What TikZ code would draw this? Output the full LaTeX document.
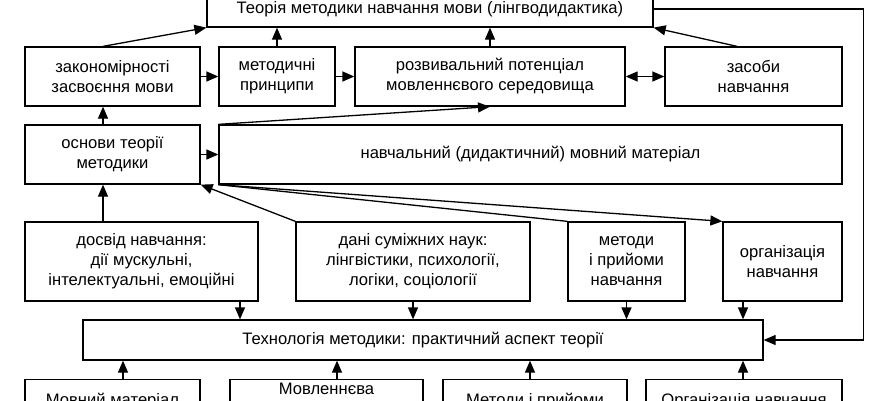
\documentclass[tikz,border=0pt]{standalone}
\usepackage{fontspec}
\setmainfont{Liberation Sans}
\usetikzlibrary{arrows.meta}
\begin{document}
\begin{tikzpicture}[x=1pt,y=-1pt,
  box/.style={draw,line width=1.3pt,inner sep=0pt,align=center,font=\fontsize{16.6}{20}\selectfont},
  txt/.style={inner sep=0pt,align=center,font=\fontsize{16.6}{20}\selectfont},
  arr/.style={line width=1.3pt,-{Triangle[length=12pt,width=10pt]}},
  darr/.style={line width=1.3pt,{Triangle[length=12pt,width=10pt]}-{Triangle[length=12pt,width=10pt]}},
  ln/.style={line width=1.3pt}]
\useasboundingbox (0,0) rectangle (870,400);
\clip (0,0) rectangle (870,400);
% row 0
\node[box,minimum width=446pt,minimum height=36pt] (top) at (430,9) {Теорія методики навчання мови (лінгводидактика)};
% row 1
\node[box,minimum width=175pt,minimum height=59pt] (zak) at (112.5,76.5) {закономірності\\засвоєння мови};
\node[box,minimum width=116pt,minimum height=59pt] (met) at (277,76.5) {методичні\\принципи};
\node[box,minimum width=270pt,minimum height=59pt] (roz) at (490,76.5) {розвивальний потенціал\\мовленнєвого середовища};
\node[box,minimum width=177pt,minimum height=59pt] (zas) at (753.5,76.5) {засоби\\навчання};
% row 2
\node[box,minimum width=175pt,minimum height=59pt] (osn) at (112.5,154.5) {основи теорії\\методики};
\node[box,minimum width=623pt,minimum height=59pt] (nav) at (530.5,154.5) {навчальний (дидактичний) мовний матеріал};
% row 3
\node[box,minimum width=233pt,minimum height=79pt] (dos) at (141.5,261.5) {досвід навчання:\\дії мускульні,\\інтелектуальні, емоційні};
\node[box,minimum width=234pt,minimum height=79pt] (dan) at (413,261.5) {дані суміжних наук:\\лінгвістики, психології,\\логіки, соціології};
\node[box,minimum width=117pt,minimum height=79pt] (mtd) at (626.5,261.5) {методи\\і прийоми\\навчання};
\node[box,minimum width=119pt,minimum height=79pt] (org) at (782.5,261.5) {організація\\навчання};
% row 4
\node[box,minimum width=680pt,minimum height=40pt] (tech) at (423,340) {Технологія методики: практичний аспект теорії};
% row 5 (cut off by the page edge, as in the reference)
\node[box,minimum width=175pt,minimum height=60pt,anchor=north] (b1) at (112.5,379) {};
\node[box,minimum width=193pt,minimum height=60pt,anchor=north] (b2) at (326.5,379) {};
\node[box,minimum width=184pt,minimum height=60pt,anchor=north] (b3) at (535,379) {};
\node[box,minimum width=196pt,minimum height=60pt,anchor=north] (b4) at (744,379) {};
\node[txt] (b1t) at (112.5,401) {Мовний матеріал};
\node[txt] (b2t) at (326.5,389) {Мовленнєва};
\node[txt] (b3t) at (535,401) {Методи і прийоми};
\node[txt] (b4t) at (744,401) {Організація навчання};
% connectors to the top box
\draw[arr] ([xshift=-9.5pt]zak.north) -- (top.south west);
\draw[arr] (met.north) -- (met.north |- top.south);
\draw[arr] (roz.north) -- (roz.north |- top.south);
\draw[arr] ([xshift=-16.5pt]zas.north) -- (top.south east);
\draw[arr] (top.east) -- ++(210,0) |- (tech.east);
% row 1 horizontal
\draw[arr] (zak.east) -- (met.west);
\draw[arr] (met.east) -- (roz.west);
\draw[darr] (roz.east) -- (zas.west);
% row 2
\draw[arr] ([xshift=-9.5pt]osn.north) -- ([xshift=-9.5pt]zak.south);
\draw[arr] (osn.east) -- (nav.west);
\draw[arr] (nav.north west) -- (roz.south);
\draw[arr] ([xshift=-38.5pt]dos.north) -- ([xshift=-9.5pt]osn.south);
\draw[arr] (dan.north west) -- (osn.south east);
\draw[ln] (nav.south west) -- (mtd.north west);
\draw[arr] (nav.south west) -- (org.north west);
% row 3 down to technology
\draw[arr] ([xshift=98.5pt]dos.south) -- ([xshift=98.5pt]dos.south |- tech.north);
\draw[arr] (dan.south) -- (dan.south |- tech.north);
\draw[arr] (mtd.south) -- (mtd.south |- tech.north);
\draw[arr] ([xshift=-39.5pt]org.south) -- ([xshift=-39.5pt]org.south |- tech.north);
% row 5 up to technology
\draw[arr] ([xshift=10.5pt]b1.north) -- ([xshift=10.5pt]b1.north |- tech.south);
\draw[arr] ([xshift=10.5pt]b2.north) -- ([xshift=10.5pt]b2.north |- tech.south);
\draw[arr] ([xshift=-5pt]b3.north) -- ([xshift=-5pt]b3.north |- tech.south);
\draw[arr] ([xshift=-1pt]b4.north) -- ([xshift=-1pt]b4.north |- tech.south);
\end{tikzpicture}
\end{document}
